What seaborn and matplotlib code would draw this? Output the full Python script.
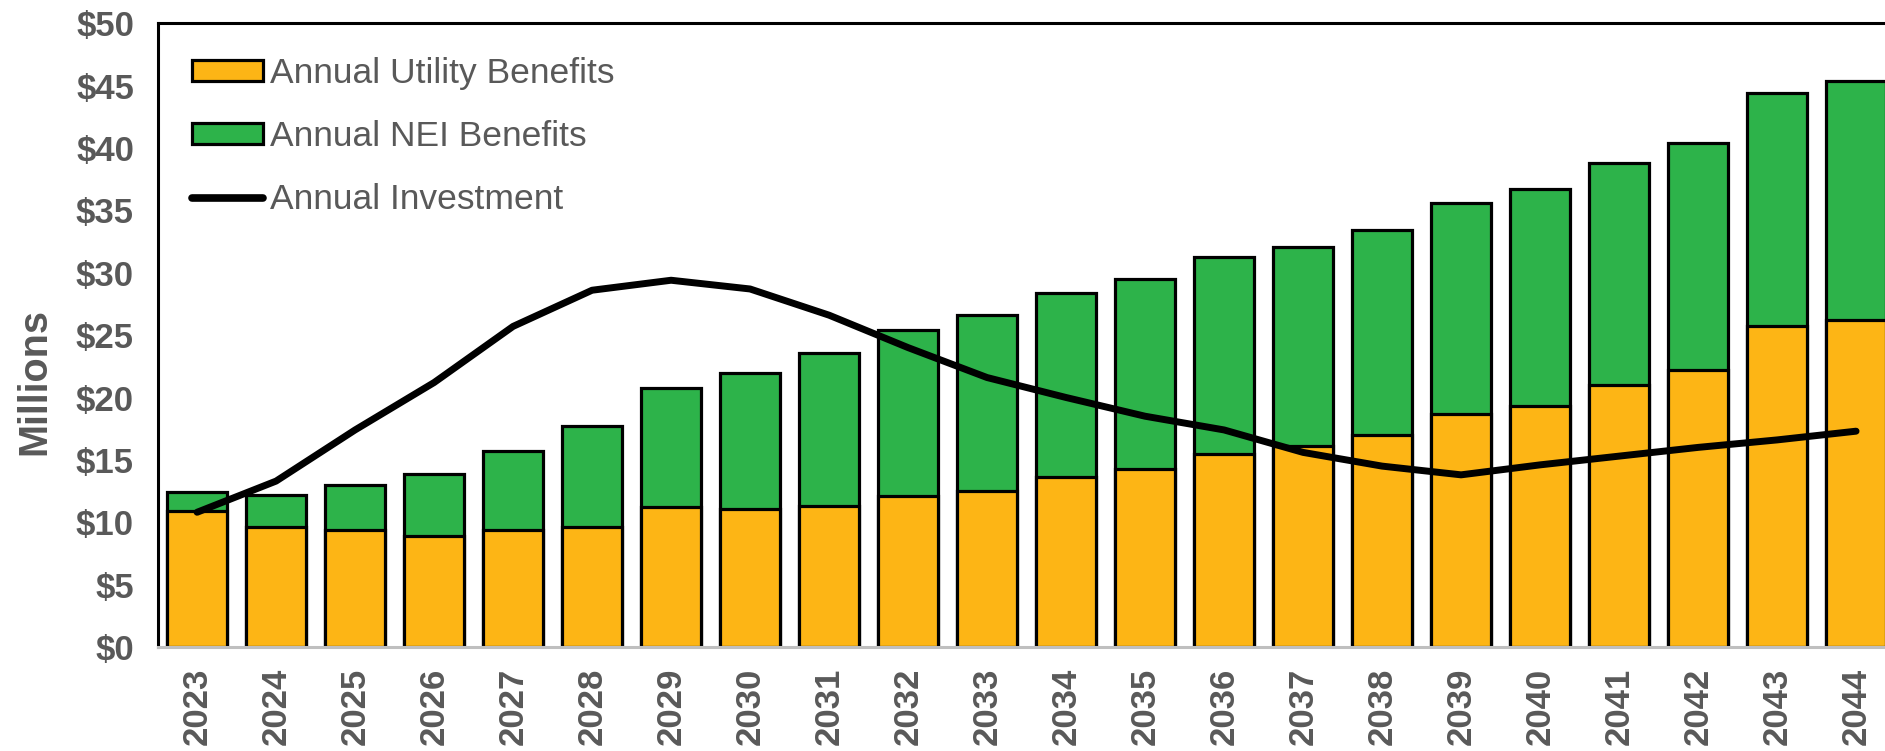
import numpy as np
import pandas as pd
import matplotlib
matplotlib.use("Agg")
import matplotlib.pyplot as plt
from matplotlib.patches import Patch
from matplotlib.lines import Line2D
import seaborn as sns

# data ($ millions)
years = [str(y) for y in range(2023, 2045)]
utility = [10.9, 9.6, 9.4, 8.9, 9.4, 9.65, 11.2, 11.1, 11.3, 12.1, 12.5,
           13.6, 14.3, 15.5, 16.1, 17.0, 18.7, 19.3, 21.0, 22.2, 25.7, 26.25]
total = [12.45, 12.16, 13.0, 13.9, 15.7, 17.7, 20.75, 22.0, 23.6, 25.4, 26.6,
         28.4, 29.5, 31.3, 32.1, 33.4, 35.6, 36.7, 38.8, 40.4, 44.4, 45.4]
investment = [10.8, 13.3, 17.4, 21.2, 25.7, 28.6, 29.4, 28.7, 26.6, 24.0, 21.6,
              20.0, 18.5, 17.4, 15.6, 14.5, 13.8, 14.6, 15.3, 16.0, 16.6, 17.3]

df = pd.DataFrame({"year": years, "utility": utility, "total": total,
                   "investment": investment})
df["pos"] = range(len(df))

orange = "#FDB515"
green = "#2DB34A"
grey = "#595959"

sns.set_style("white")
plt.rcParams["font.family"] = ["Liberation Sans", "DejaVu Sans"]

fig = plt.figure(figsize=(18.85, 7.51), dpi=100)
ax = fig.add_axes([0.0836, 0.1385, 0.922, 0.8305])

# green = total (NEI on top of utility), then utility drawn over it
sns.barplot(data=df, x="year", y="total", color=green, saturation=1,
            width=0.76, edgecolor="black", linewidth=2.3, ax=ax)
sns.barplot(data=df, x="year", y="utility", color=orange, saturation=1,
            width=0.76, edgecolor="black", linewidth=2.3, ax=ax)
sns.lineplot(data=df, x="pos", y="investment", color="black", linewidth=5,
             solid_capstyle="round", ax=ax)

ax.set_xlim(-0.5, len(years) - 0.5)
ax.set_ylim(0, 50)
ax.set_yticks(range(0, 51, 5))
ax.set_yticklabels([f"${v}" for v in range(0, 51, 5)])
ax.set_xticks(range(len(years)))
ax.set_xticklabels(years, rotation=90)

for lab in ax.get_xticklabels() + ax.get_yticklabels():
    lab.set_fontweight("bold")
    lab.set_color(grey)
    lab.set_fontsize(25)
ax.tick_params(axis="y", length=0, pad=17)
ax.tick_params(axis="x", length=0, pad=15)

ax.set_xlabel("")
ax.set_ylabel("Millions", fontsize=28.5, fontweight="bold", color=grey)
ax.yaxis.set_label_coords(-0.060, 0.425)

for s in ["top", "left"]:
    ax.spines[s].set_color("black")
    ax.spines[s].set_linewidth(2.2)
ax.spines["right"].set_visible(False)
ax.spines["bottom"].set_color("#BFBFBF")
ax.spines["bottom"].set_linewidth(2.2)

handles = [
    Patch(facecolor=orange, edgecolor="black", linewidth=2.3),
    Patch(facecolor=green, edgecolor="black", linewidth=2.3),
    Line2D([0], [0], color="black", linewidth=5.5, solid_capstyle="round"),
]
labels = ["Annual Utility Benefits", "Annual NEI Benefits", "Annual Investment"]
leg = ax.legend(handles, labels, loc="upper left", bbox_to_anchor=(0.020, 0.946),
                frameon=False, borderpad=0, borderaxespad=0,
                handlelength=2.0, handleheight=0.56,
                handletextpad=0.2, labelspacing=0.85,
                prop={"size": 25.5})
for t in leg.get_texts():
    t.set_color(grey)

fig.savefig("out.png", dpi=100)
